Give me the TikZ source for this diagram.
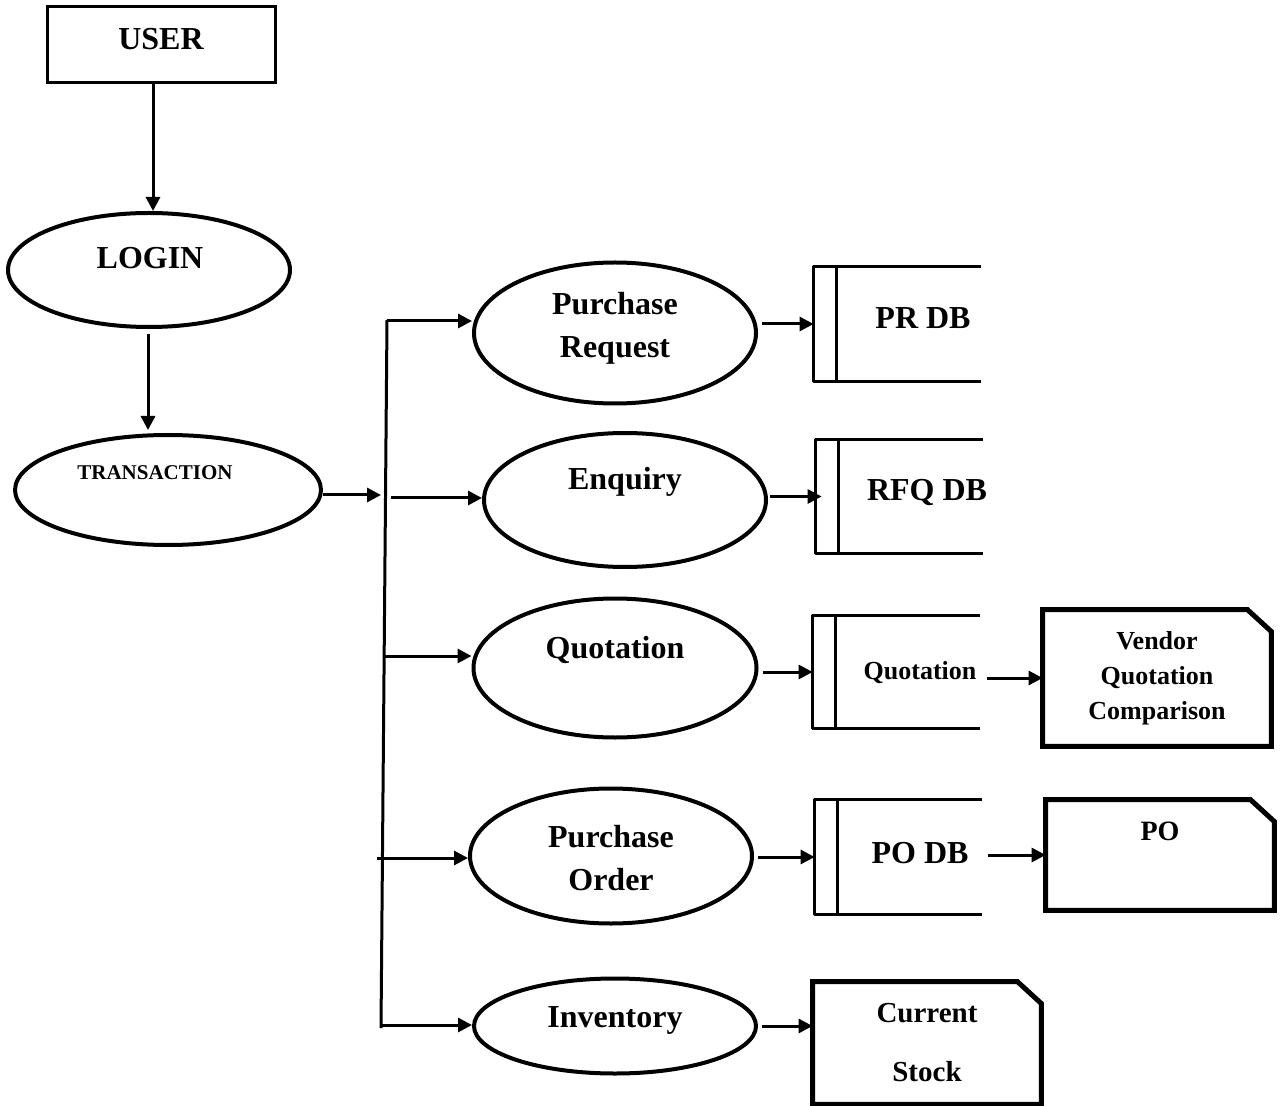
\documentclass[tikz,border=0pt]{standalone}
\usepackage{fontspec}
\setmainfont{Liberation Serif}
\usetikzlibrary{shapes.geometric,arrows.meta}
\tikzset{
  txt/.style={inner sep=0pt,align=center,font=\bfseries\fontsize{16}{21.5}\selectfont},
  proc/.style={draw,ellipse,line width=2pt,inner sep=0pt},
  conn/.style={line width=1.5pt,-{Triangle[length=7pt,width=7pt]}},
  bus/.style={line width=1.5pt},
  storebox/.style={inner sep=0pt},
  storeline/.style={line width=1.75pt,line join=round},
  docbox/.style={inner sep=0pt,align=center},
  docline/.style={line width=2.5pt,line join=miter},
}
\begin{document}
\begin{tikzpicture}[x=0.5pt,y=-0.5pt]
\useasboundingbox (0,0) rectangle (1284,1106);
% USER
\node[draw,line width=1.5pt,minimum width=114pt,minimum height=38pt,inner sep=0pt] (user) at (161,45) {};
\node[txt] (userT) at (161,39) {USER};
% LOGIN
\node[proc,minimum width=141pt,minimum height=57pt] (login) at (149,270) {};
\node[txt] (loginT) at (150,258) {LOGIN};
% TRANSACTION
\node[proc,minimum width=153pt,minimum height=55pt] (trans) at (168,490) {};
\node[txt,font=\bfseries\fontsize{10.5}{12}\selectfont] (transT) at (155,473) {TRANSACTION};
% arrows top
\draw[conn] ([xshift=-4pt]user.south) -- ([xshift=2pt]login.north);
\coordinate (a2s) at (148,334);
\coordinate (a2e) at (148,430);
\draw[conn] (a2s) -- (a2e);
\coordinate (tin) at (381,495);
\draw[conn] (trans.east |- tin) -- (tin);
% bus
\coordinate (bt) at (387,320);
\coordinate (bb) at (381,1028);
\draw[bus] (bt) -- (bb);
% process ellipses
\node[proc,minimum width=141pt,minimum height=70.5pt] (pr) at (615,333) {};
\node[txt] (prT) at (615,328) {Purchase\\Request};
\node[proc,minimum width=141pt,minimum height=67pt] (enq) at (625,500) {};
\node[txt] (enqT) at (625,482) {Enquiry};
\node[proc,minimum width=141.5pt,minimum height=69.5pt] (quo) at (615,668) {};
\node[txt] (quoT) at (615,650) {Quotation};
\node[proc,minimum width=141pt,minimum height=67.5pt] (po) at (611,856) {};
\node[txt] (poT) at (611,858) {Purchase\\Order};
\node[proc,minimum width=141pt,minimum height=47.5pt] (inv) at (615,1026) {};
\node[txt] (invT) at (615,1020) {Inventory};
% branches
\coordinate (b1) at (387,321);
\coordinate (b2) at (391,498);
\coordinate (b3) at (385,656);
\coordinate (b4) at (377,858);
\coordinate (b5) at (381,1025);
\draw[conn] (b1) -- (b1 -| pr.west);
\draw[conn] (b2) -- (b2 -| enq.west);
\draw[conn] (b3) -- (b3 -| quo.west);
\draw[conn] (b4) -- (b4 -| po.west);
\draw[conn] (b5) -- (b5 -| inv.west);
% stores
\node[storebox,minimum width=83.5pt,minimum height=57pt] (prdb) at (897.5,324) {};
\node[storebox,minimum width=83.5pt,minimum height=56.5pt] (rfqdb) at (899.5,496.5) {};
\node[storebox,minimum width=83.5pt,minimum height=56pt] (quodb) at (896.5,672) {};
\node[storebox,minimum width=83.5pt,minimum height=57pt] (podb) at (898.5,857) {};
\foreach \s in {prdb,rfqdb,quodb,podb}{
  \draw[storeline] (\s.north east) -- (\s.north west) -- (\s.south west) -- (\s.south east);
  \draw[storeline] ([xshift=11.5pt]\s.north west) -- ([xshift=11.5pt]\s.south west);
}
\node[txt] (prdbT) at (923,318) {PR DB};
\node[txt] (rfqdbT) at (927,493) {RFQ DB};
\node[txt,font=\bfseries\fontsize{13}{15}\selectfont] (quodbT) at (920,673) {Quotation};
\node[txt] (podbT) at (920,853) {PO DB};
% ellipse -> store
\draw[conn,shorten <=2pt] (pr.east |- prdb.west) -- (prdb.west);
\draw[conn,shorten <=1pt,shorten >=-3pt] (enq.east |- rfqdb.west) -- (rfqdb.west);
\draw[conn,shorten <=2pt] (quo.east |- quodb.west) -- (quodb.west);
\draw[conn,shorten <=2pt] (po.east |- podb.west) -- (podb.west);
% documents
\node[docbox,minimum width=114pt,minimum height=68pt,
      font=\bfseries\fontsize{13}{17.5}\selectfont] (vqc) at (1157,678) {Vendor\\Quotation\\Comparison};
\node[docbox,minimum width=114pt,minimum height=55pt] (podoc) at (1160,855) {};
\node[txt,font=\bfseries\fontsize{14}{16}\selectfont] (podocT) at (1160,831) {PO};
\node[docbox,minimum width=114pt,minimum height=61pt,
      font=\bfseries\fontsize{14.5}{29.5}\selectfont] (cs) at (927,1043) {Current\\Stock};
\foreach \d in {vqc,podoc,cs}{
  \draw[docline] (\d.south west) -- (\d.north west) -- ([xshift=-12pt]\d.north east)
     -- ([yshift=-11pt]\d.north east) -- (\d.south east) -- cycle;
}
% store -> document
\draw[conn,shorten <=3.5pt] (quodb.east |- vqc.west) -- (vqc.west);
\draw[conn,shorten <=3pt] (podb.east |- podoc.west) -- (podoc.west);
\draw[conn,shorten <=2pt] (inv.east) -- (inv.east -| cs.west);
\end{tikzpicture}
\end{document}
